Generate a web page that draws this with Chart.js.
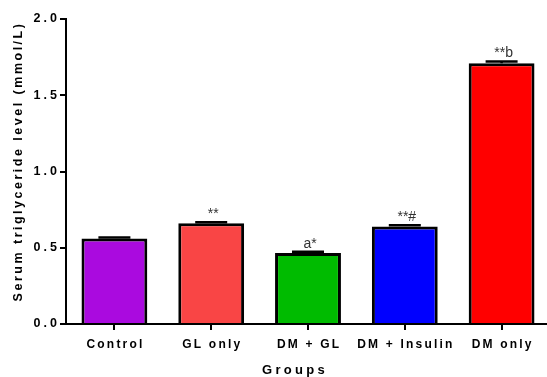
<!DOCTYPE html>
<html>
<head>
<meta charset="utf-8">
<script src="https://cdn.jsdelivr.net/npm/chart.js@4/dist/chart.umd.min.js"></script>
<style>
  html, body { margin: 0; padding: 0; background: #fff; overflow: hidden; }
  canvas { display: block; }
</style>
</head>
<body>
<canvas id="c" width="550" height="377"></canvas>
<script>
// Serum triglyceride by treatment group (mean, SEM, significance marks)
const groups = ['Control', 'GL only', 'DM + GL', 'DM + Insulin', 'DM only'];
const triglyceride = [0.56, 0.66, 0.465, 0.64, 1.71];
const sem = [0.008, 0.008, 0.008, 0.008, 0.012];
const marks = ['', '**', 'a*', '**#', '**b'];
const yTicks = [0, 0.5, 1.0, 1.5, 2.0];
const barColors = ['#AA0ADF', '#F94545', '#00BB00', '#0000FF', '#FF0000'];

const FONT = '"Liberation Sans", Arial, Helvetica, sans-serif';

// letter spacing for the axis texts (canvas letterSpacing)
const SPACING = {
  x: { ticks: 2.2, title: 3.3, titleDx: -13, titleDy: 0 },
  y: { ticks: 3, title: 2.5, titleDx: 0, titleDy: -10 }
};

function spacedScale(Base, id) {
  return class extends Base {
    static id = id;
    drawLabels(area) {
      const s = SPACING[this.axis];
      const ctx = this.ctx;
      ctx.save();
      ctx.letterSpacing = s.ticks + 'px';
      // compensate the trailing space added after the last glyph
      ctx.translate(this.axis === 'x' ? s.ticks / 2 : s.ticks, 0);
      super.drawLabels(area);
      ctx.restore();
    }
    drawTitle() {
      const s = SPACING[this.axis];
      const ctx = this.ctx;
      ctx.save();
      ctx.letterSpacing = s.title + 'px';
      ctx.translate(s.titleDx, s.titleDy);
      super.drawTitle();
      ctx.restore();
    }
  };
}
const SpacedCategory = spacedScale(Chart.CategoryScale, 'spacedCategory');
const SpacedLinear = spacedScale(Chart.LinearScale, 'spacedLinear');
Chart.register(SpacedCategory, SpacedLinear);

// error bar caps and significance marks above each bar
const barExtras = {
  id: 'barExtras',
  afterDatasetsDraw(chart) {
    const { ctx } = chart;
    const y = chart.scales.y;
    const meta = chart.getDatasetMeta(0);
    ctx.save();
    meta.data.forEach((bar, i) => {
      const base = y.getPixelForValue(triglyceride[i]);
      const top = y.getPixelForValue(triglyceride[i] + sem[i]);
      ctx.strokeStyle = '#000';
      ctx.lineWidth = 2.5;
      ctx.beginPath();
      ctx.moveTo(bar.x, base);
      ctx.lineTo(bar.x, top);
      ctx.moveTo(bar.x - 16, top);
      ctx.lineTo(bar.x + 16, top);
      ctx.stroke();
      if (marks[i]) {
        ctx.fillStyle = '#333';
        ctx.font = '14px ' + FONT;
        ctx.textAlign = 'center';
        ctx.textBaseline = 'alphabetic';
        ctx.fillText(marks[i], bar.x + 2, top - 4);
      }
    });
    ctx.restore();
  }
};

new Chart(document.getElementById('c'), {
  type: 'bar',
  data: {
    labels: groups,
    datasets: [{
      data: triglyceride,
      backgroundColor: barColors,
      borderColor: '#000',
      borderWidth: 3,
      borderSkipped: 'start',
      barPercentage: 0.68,
      categoryPercentage: 1
    }]
  },
  options: {
    responsive: false,
    animation: false,
    devicePixelRatio: 1,
    layout: { padding: { top: 19, right: 0, left: 0, bottom: 0 } },
    plugins: { legend: { display: false }, tooltip: { enabled: false } },
    scales: {
      x: {
        type: 'spacedCategory',
        offset: true,
        afterFit(scale) { scale.height = 53; },
        grid: {
          display: true, offset: false, drawOnChartArea: false, drawTicks: true,
          tickLength: 6, color: '#000', lineWidth: 2
        },
        border: { display: true, color: '#000', width: 2 },
        ticks: {
          color: '#000', padding: 7, maxRotation: 0, autoSkip: false,
          font: { family: FONT, size: 12, weight: 'bold' }
        },
        title: {
          display: true, text: 'Groups', color: '#000',
          font: { family: FONT, size: 13, weight: 'bold', lineHeight: 1 },
          padding: { top: 0, bottom: 0 }
        }
      },
      y: {
        type: 'spacedLinear',
        min: 0, max: 2,
        afterFit(scale) { scale.width = 66; },
        afterBuildTicks(scale) { scale.ticks = yTicks.map(v => ({ value: v })); },
        grid: {
          display: true, drawOnChartArea: false, drawTicks: true,
          tickLength: 6, color: '#000', lineWidth: 2
        },
        border: { display: true, color: '#000', width: 2 },
        ticks: {
          color: '#000', padding: 3,
          font: { family: FONT, size: 12.5, weight: 'bold' },
          callback: v => Number(v).toFixed(1)
        },
        title: {
          display: true, text: 'Serum triglyceride level (mmol/L)', color: '#000',
          font: { family: FONT, size: 12.5, weight: 'bold', lineHeight: 1.2 },
          padding: { top: 11, bottom: 0 }
        }
      }
    }
  },
  plugins: [barExtras]
});
</script>
</body>
</html>
